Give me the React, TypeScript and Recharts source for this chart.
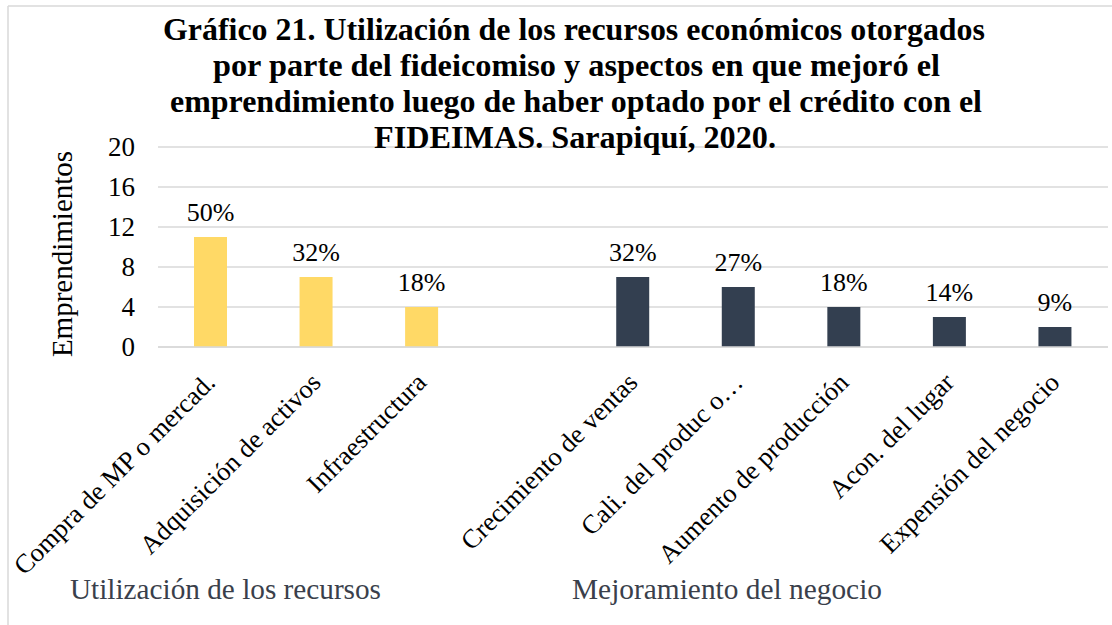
import React from "react";
import { BarChart, Bar, XAxis, YAxis, CartesianGrid, LabelList, Cell } from "recharts";

const categories = [
  "Compra de MP o mercad.",
  "Adquisición de activos",
  "Infraestructura",
  "",
  "Crecimiento de ventas",
  "Cali. del produc o…",
  "Aumento de producción",
  "Acon. del lugar",
  "Expensión del negocio",
];
const values: (number | null)[] = [11, 7, 4, null, 7, 6, 4, 3, 2];
const percentLabels = ["50%", "32%", "18%", "", "32%", "27%", "18%", "14%", "9%"];
const groupOf = ["recursos", "recursos", "recursos", "", "negocio", "negocio", "negocio", "negocio", "negocio"];
const groupColors: Record<string, string> = { recursos: "#FFD966", negocio: "#333F50", "": "#FFFFFF" };
const yTicks = [0, 4, 8, 12, 16, 20];
const titleLines = [
  "Gráfico 21. Utilización de los recursos económicos otorgados",
  "por parte del fideicomiso y aspectos en que mejoró el",
  "emprendimiento luego de haber optado por el crédito con el",
  "FIDEIMAS. Sarapiquí, 2020.",
];
const groupLabels = ["Utilización de los recursos", "Mejoramiento del negocio"];
const yAxisTitle = "Emprendimientos";

const data = categories.map((name, i) => ({
  name,
  value: values[i],
  label: percentLabels[i],
  group: groupOf[i],
}));

const FONT = "'Liberation Serif', 'Times New Roman', serif";
const W = 1112;
const H = 625;
const PLOT_LEFT = 158;
const PLOT_TOP = 147;
const PLOT_BOTTOM = 347;
const PLOT_RIGHT = 1108;
const Y_AXIS_W = 60;
const X_AXIS_H = 30;

const XTick = (props: any) => {
  const { x, payload } = props;
  const px = x + 6;
  const py = PLOT_BOTTOM + 37;
  if (!payload || !payload.value) return null;
  return (
    <text
      x={px}
      y={py}
      textAnchor="end"
      transform={`rotate(-45 ${px} ${py})`}
      fontFamily={FONT}
      fontSize={26.5}
      fill="#000"
    >
      {payload.value}
    </text>
  );
};

const YTick = (props: any) => {
  const { y, payload } = props;
  return (
    <text x={135} y={y} dy="0.35em" textAnchor="end" fontFamily={FONT} fontSize={27} fill="#000">
      {payload.value}
    </text>
  );
};

const BarLabel = (props: any) => {
  const { x, y, width, value } = props;
  if (!value) return null;
  return (
    <text
      x={Number(x) + Number(width) / 2}
      y={Number(y) - 16}
      textAnchor="middle"
      fontFamily={FONT}
      fontSize={26}
      fill="#000"
    >
      {value}
    </text>
  );
};

const titleLayout = [
  { x1: 163, x2: 985, y: 40 },
  { x1: 213, x2: 940, y: 76 },
  { x1: 170, x2: 982, y: 112 },
  { x1: 374, x2: 776, y: 148 },
];
const groupLayout = [
  { x1: 70, x2: 381, y: 599 },
  { x1: 572, x2: 882, y: 599 },
];

export default function App() {
  return (
    <div style={{ position: "absolute", left: 0, top: 0, width: W, height: H, background: "#fff" }}>
      <BarChart
        width={W}
        height={H}
        data={data}
        margin={{
          top: PLOT_TOP,
          left: PLOT_LEFT - Y_AXIS_W,
          right: W - PLOT_RIGHT,
          bottom: H - PLOT_BOTTOM - X_AXIS_H,
        }}
      >
        <CartesianGrid vertical={false} stroke="#D9D9D9" strokeWidth={1.5} />
        <XAxis
          dataKey="name"
          interval={0}
          tickLine={false}
          axisLine={{ stroke: "#D9D9D9", strokeWidth: 1.5 }}
          height={X_AXIS_H}
          tick={<XTick />}
        />
        <YAxis
          domain={[0, 20]}
          ticks={yTicks}
          width={Y_AXIS_W}
          tickLine={false}
          axisLine={false}
          tick={<YTick />}
        />
        <Bar dataKey="value" barSize={33} isAnimationActive={false}>
          {data.map((d, i) => (
            <Cell key={i} fill={groupColors[d.group]} />
          ))}
          <LabelList dataKey="label" content={<BarLabel />} />
        </Bar>
      </BarChart>
      <svg
        width={W}
        height={H}
        style={{ position: "absolute", left: 0, top: 0, pointerEvents: "none" }}
      >
        <line x1={8} y1={6} x2={W} y2={6} stroke="#D9D9D9" strokeWidth={1.5} />
        <line x1={8} y1={6} x2={8} y2={H} stroke="#D9D9D9" strokeWidth={1.5} />
        {titleLines.map((t, i) => (
          <text
            key={i}
            x={titleLayout[i].x1}
            y={titleLayout[i].y}
            textLength={titleLayout[i].x2 - titleLayout[i].x1}
            lengthAdjust="spacingAndGlyphs"
            fontFamily={FONT}
            fontWeight="bold"
            fontSize={31}
            fill="#000"
          >
            {t}
          </text>
        ))}
        {groupLabels.map((t, i) => (
          <text
            key={i}
            x={groupLayout[i].x1}
            y={groupLayout[i].y}
            textLength={groupLayout[i].x2 - groupLayout[i].x1}
            lengthAdjust="spacingAndGlyphs"
            fontFamily={FONT}
            fontSize={29}
            fill="#3A3F4B"
          >
            {t}
          </text>
        ))}
        <text
          x={0}
          y={0}
          transform="translate(72 254) rotate(-90)"
          textAnchor="middle"
          fontFamily={FONT}
          fontSize={29}
          fill="#000"
        >
          {yAxisTitle}
        </text>
      </svg>
    </div>
  );
}
